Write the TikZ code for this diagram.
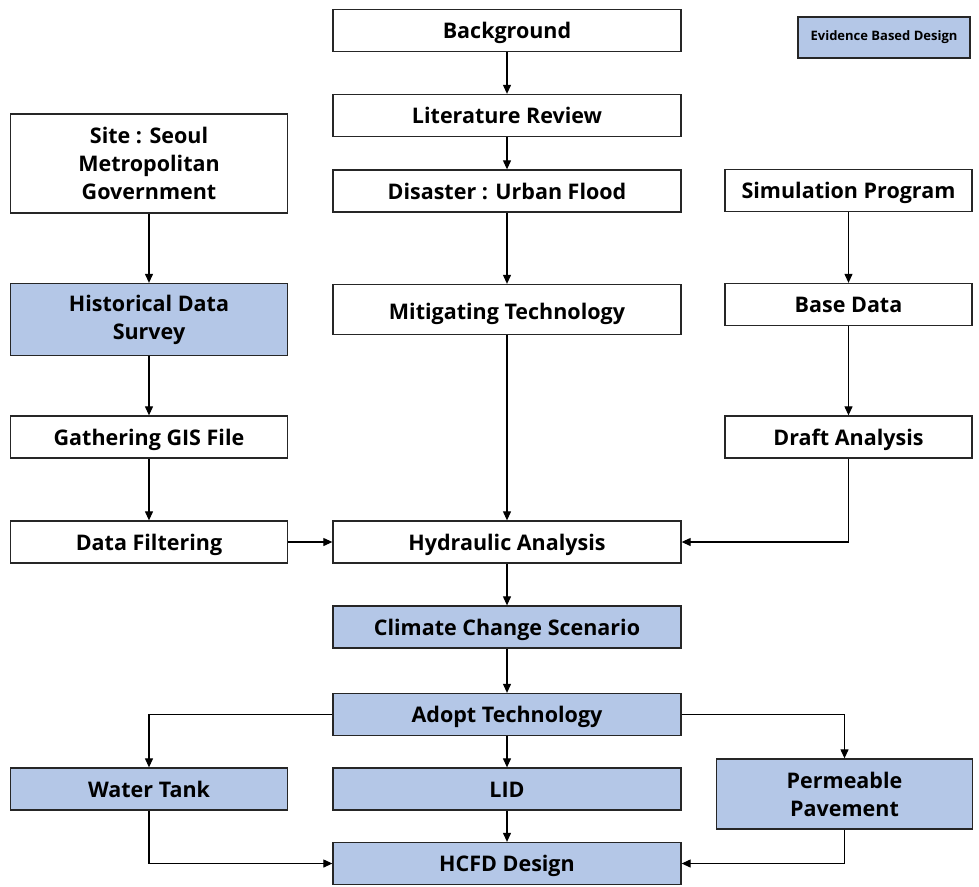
\documentclass[tikz,border=0pt]{standalone}
\usepackage{fontspec}
\setmainfont{Open Sans}
\usetikzlibrary{arrows.meta}
\definecolor{boxblue}{HTML}{B4C7E7}
\definecolor{edge}{HTML}{262626}
\tikzset{
  box/.style={draw=edge, line width=1.3pt, fill=white, inner sep=2pt, align=center,
    font=\fontsize{21.5}{28}\selectfont\bfseries},
  bluebox/.style={box, fill=boxblue},
  one/.style={text height=18pt, text depth=2pt},
  conn/.style={draw=black, line width=1.1pt, -{Triangle[length=9pt,width=8pt]}},
}
\begin{document}
\begin{tikzpicture}[x=1pt,y=-1pt]
\useasboundingbox (0,0) rectangle (979,886);
% centre column
\node[box, one, minimum width=348, minimum height=42] (bg) at (507,30.5) {Background};
\node[box, one, minimum width=348, minimum height=42] (lit) at (507,115.5) {Literature Review};
\node[box, one, minimum width=348, minimum height=42] (dis) at (507,191) {Disaster : Urban Flood};
\node[box, text height=22pt, text depth=2pt, minimum width=348, minimum height=50] (mit) at (507,309.5) {Mitigating Technology};
\node[box, one, minimum width=348, minimum height=42] (hyd) at (507,542) {Hydraulic Analysis};
\node[bluebox, one, minimum width=348, minimum height=42] (cli) at (507,627) {Climate Change Scenario};
\node[bluebox, one, minimum width=348, minimum height=42] (ado) at (507,714.5) {Adopt Technology};
\node[bluebox, one, minimum width=348, minimum height=42] (lid) at (507,789) {LID};
\node[bluebox, one, minimum width=348, minimum height=42] (hcf) at (507,863.5) {HCFD Design};
% left column
\node[box, minimum width=277, minimum height=99] (site) at (149,163.5) {Site : Seoul\\Metropolitan\\Government};
\node[bluebox, minimum width=277, minimum height=72] (his) at (149,319.5) {Historical Data\\Survey};
\node[box, one, minimum width=277, minimum height=42] (gis) at (149,437) {Gathering GIS File};
\node[box, one, minimum width=277, minimum height=42] (fil) at (149,542) {Data Filtering};
\node[bluebox, one, minimum width=277, minimum height=42] (wt) at (149,789) {Water Tank};
% right column
\node[box, one, minimum width=247, minimum height=42] (sim) at (848.5,190.5) {Simulation Program};
\node[box, one, minimum width=247, minimum height=42] (base) at (848.5,304.5) {Base Data};
\node[box, one, minimum width=247, minimum height=42] (dra) at (848.5,437) {Draft Analysis};
\node[bluebox, minimum width=256, minimum height=70] (per) at (844.5,794) {Permeable\\Pavement};
% legend
\node[bluebox, minimum width=172, minimum height=41, line width=1.2pt,
  font=\fontsize{13}{15}\selectfont\bfseries] (leg) at (884,37.5) {Evidence Based Design};
% connectors
\draw[conn] (bg) -- (lit);
\draw[conn] (lit) -- (dis);
\draw[conn] (dis) -- (mit);
\draw[conn] (mit) -- (hyd);
\draw[conn] (site) -- (his);
\draw[conn] (his) -- (gis);
\draw[conn] (gis) -- (fil);
\draw[conn] (fil) -- (hyd);
\draw[conn] (sim.south -| base.north) -- (base.north);
\draw[conn] (base) -- (dra);
\draw[conn] (dra.south) |- (hyd.east);
\draw[conn] (hyd) -- (cli);
\draw[conn] (cli) -- (ado);
\draw[conn] (ado.west) -| (wt.north);
\draw[conn] (ado) -- (lid);
\draw[conn] (ado.east) -| (per.north);
\draw[conn] (lid) -- (hcf);
\draw[conn] (wt.south) |- (hcf.west);
\draw[conn] (per.south) |- (hcf.east);
\end{tikzpicture}
\end{document}
